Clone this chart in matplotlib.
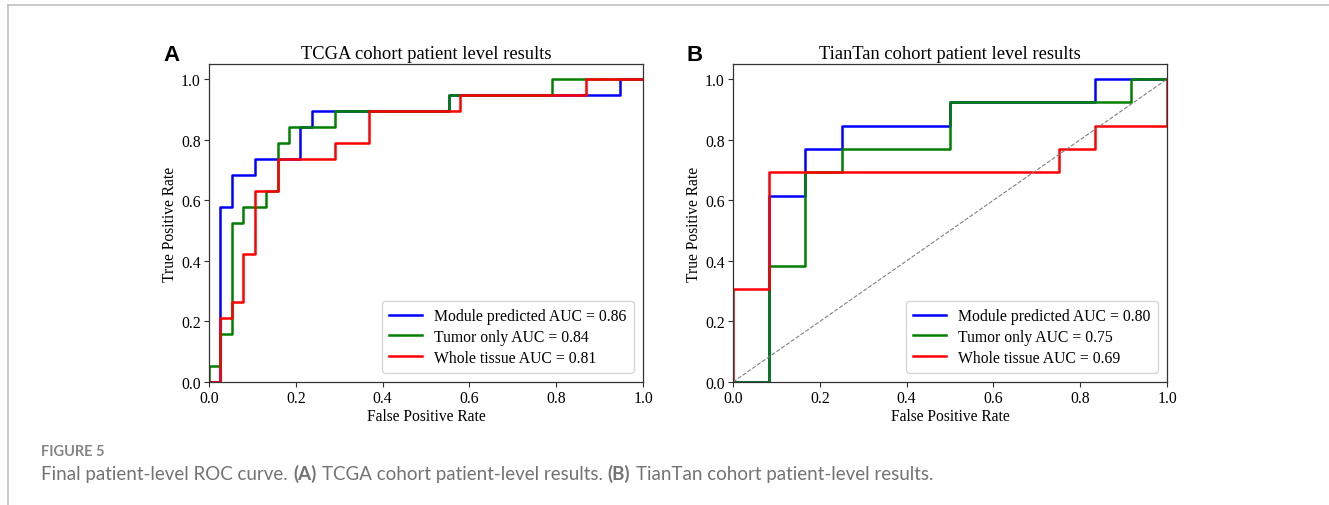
import matplotlib.pyplot as plt
import numpy as np

# ROC step points (TCGA: 38 neg / 19 pos, TianTan: 12 neg / 13 pos)
tcga_module_fpr = [0, 1/38, 1/38, 2/38, 2/38, 4/38, 4/38, 8/38, 8/38, 9/38, 9/38, 21/38, 21/38, 36/38, 36/38, 1]
tcga_module_tpr = [0, 0, 11/19, 11/19, 13/19, 13/19, 14/19, 14/19, 16/19, 16/19, 17/19, 17/19, 18/19, 18/19, 1, 1]

tcga_tumor_fpr = [0, 0, 1/38, 1/38, 2/38, 2/38, 3/38, 3/38, 5/38, 5/38, 6/38, 6/38, 7/38, 7/38, 11/38, 11/38, 21/38, 21/38, 30/38, 30/38, 1]
tcga_tumor_tpr = [0, 1/19, 1/19, 3/19, 3/19, 10/19, 10/19, 11/19, 11/19, 12/19, 12/19, 15/19, 15/19, 16/19, 16/19, 17/19, 17/19, 18/19, 18/19, 1, 1]

tcga_whole_fpr = [0, 1/38, 1/38, 2/38, 2/38, 3/38, 3/38, 4/38, 4/38, 6/38, 6/38, 11/38, 11/38, 14/38, 14/38, 22/38, 22/38, 33/38, 33/38, 1]
tcga_whole_tpr = [0, 0, 4/19, 4/19, 5/19, 5/19, 8/19, 8/19, 12/19, 12/19, 14/19, 14/19, 15/19, 15/19, 17/19, 17/19, 18/19, 18/19, 1, 1]

tt_module_fpr = [0, 1/12, 1/12, 2/12, 2/12, 3/12, 3/12, 6/12, 6/12, 10/12, 10/12, 1]
tt_module_tpr = [0, 0, 8/13, 8/13, 10/13, 10/13, 11/13, 11/13, 12/13, 12/13, 1, 1]

tt_tumor_fpr = [0, 1/12, 1/12, 2/12, 2/12, 3/12, 3/12, 6/12, 6/12, 11/12, 11/12, 1]
tt_tumor_tpr = [0, 0, 5/13, 5/13, 9/13, 9/13, 10/13, 10/13, 12/13, 12/13, 1, 1]

tt_whole_fpr = [0, 0, 1/12, 1/12, 9/12, 9/12, 10/12, 10/12, 1, 1]
tt_whole_tpr = [0, 4/13, 4/13, 9/13, 9/13, 10/13, 10/13, 11/13, 11/13, 1]

labels = ['Module predicted', 'Tumor only', 'Whole tissue']
tcga_auc = [0.86, 0.84, 0.81]
tt_auc = [0.80, 0.75, 0.69]
colors = ['blue', 'green', 'red']

W, H = 1329, 506
fig = plt.figure(figsize=(W / 100, H / 100), dpi=100)
serif = ['Liberation Serif', 'DejaVu Serif']


def px_axes(x0, x1, y0, y1):
    return fig.add_axes([x0 / W, 1 - y1 / H, (x1 - x0) / W, (y1 - y0) / H])


ax1 = px_axes(209, 643, 65, 383)
ax2 = px_axes(733, 1167, 65, 383)

panels = [
    (ax1, 'TCGA cohort patient level results', 'A',
     [(tcga_module_fpr, tcga_module_tpr), (tcga_tumor_fpr, tcga_tumor_tpr), (tcga_whole_fpr, tcga_whole_tpr)],
     tcga_auc, False),
    (ax2, 'TianTan cohort patient level results', 'B',
     [(tt_module_fpr, tt_module_tpr), (tt_tumor_fpr, tt_tumor_tpr), (tt_whole_fpr, tt_whole_tpr)],
     tt_auc, True),
]

for ax, title, letter, curves, aucs, diag in panels:
    for (fpr, tpr), lab, auc, c in zip(curves, labels, aucs, colors):
        ax.plot(fpr, tpr, color=c, lw=1.8, label=f'{lab} AUC = {auc:.2f}')
    if diag:
        ax.plot([0, 1], [0, 1], color='gray', lw=0.8, ls='--')
    ax.set_xlim(0, 1)
    ax.set_ylim(0, 1.05)
    ax.set_xticks(np.arange(0, 1.01, 0.2))
    ax.set_yticks(np.arange(0, 1.01, 0.2))
    ax.tick_params(labelsize=11.3, color='#333333', length=3.5, width=0.8, pad=2.5)
    for lbl in ax.get_xticklabels() + ax.get_yticklabels():
        lbl.set_family(serif)
    for sp in ax.spines.values():
        sp.set_color('#333333')
        sp.set_linewidth(0.9)
    ax.set_xlabel('False Positive Rate', family=serif, fontsize=11.2, labelpad=1)
    ax.set_ylabel('True Positive Rate', family=serif, fontsize=11.2, labelpad=2)
    ax.set_title(title, family=serif, fontsize=13.3, pad=4)
    ax.legend(loc='lower right', prop={'family': serif, 'size': 11.3}, frameon=True,
              edgecolor='#cccccc', fancybox=True, handlelength=2.1, borderpad=0.45,
              labelspacing=0.3, borderaxespad=0.6)
    bb = ax.get_position()
    fig.text(bb.x0 - 46 / W, bb.y1 - 1 / H, letter, family=['Liberation Sans', 'DejaVu Sans'],
             fontsize=16, fontweight='bold', ha='left', va='bottom')

# frame lines of the page
fig.add_artist(plt.Line2D([8 / W, 1], [1 - 6 / H, 1 - 6 / H], color='#c0c0c0', lw=1.2))
fig.add_artist(plt.Line2D([8 / W, 8 / W], [0, 1 - 6 / H], color='#c0c0c0', lw=1.2))

sans = ['Lato', 'DejaVu Sans']
grey = '#737373'
fig.text(41 / W, 1 - 456 / H, 'FIGURE 5', family=sans, fontsize=10.5, fontweight='bold',
         color='#858585', va='baseline')

pieces = [('Final patient-level ROC curve.', 'normal'), ('(A)', 'bold'),
          ('TCGA cohort patient-level results.', 'normal'), ('(B)', 'bold'),
          ('TianTan cohort patient-level results.', 'normal')]
prev = fig.text(41 / W, 1 - 483 / H, pieces[0][0], family=sans, fontsize=13.5, color=grey,
                va='bottom')
for txt, wt in pieces[1:]:
    prev = plt.annotate(
        txt, xy=(1, 0), xycoords=prev, xytext=(3.8, 0), textcoords='offset points',
        family=sans, fontsize=13.5, fontweight=wt, color=grey, va='bottom', ha='left',
        annotation_clip=False)

fig.savefig('out.png', dpi=100)
